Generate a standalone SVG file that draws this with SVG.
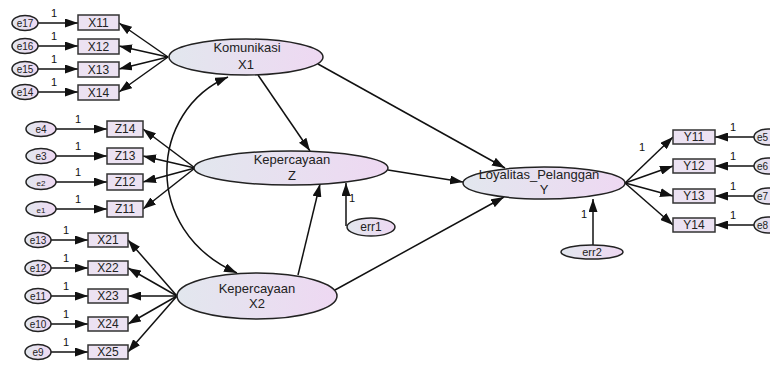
<svg xmlns="http://www.w3.org/2000/svg" width="770" height="365" viewBox="0 0 770 365">
<defs>
<linearGradient id="g" x1="0" y1="0" x2="1" y2="0">
<stop offset="0" stop-color="#e2e7ee"/>
<stop offset="1" stop-color="#eed8f2"/>
</linearGradient>
<marker id="a" markerUnits="userSpaceOnUse" markerWidth="13" markerHeight="9" refX="13" refY="4.5" orient="auto-start-reverse">
<path d="M0,0 L13,4.5 L0,9 z" fill="#111"/>
</marker>
</defs>
<style>
text{font-family:"Liberation Sans",Arial,sans-serif;fill:#222;text-anchor:middle}
.box{fill:#ece2f2;stroke:#333;stroke-width:1.5}
.el{fill:url(#g);stroke:#222;stroke-width:1.5}
.c line,.c path{stroke:#111;stroke-width:1.5;fill:none;marker-end:url(#a)}
.bt{font-size:12px}
.et{font-size:10px}
.lt{font-size:13px}
.one{font-size:11px;fill:#111}
.rt{font-size:10px;text-anchor:start}
</style>
<rect width="770" height="365" fill="#fff"/>
<g id="connectors" class="c">
<line x1="168" y1="57" x2="119" y2="23"/>
<line x1="168" y1="57" x2="119" y2="46"/>
<line x1="168" y1="57" x2="119" y2="69"/>
<line x1="168" y1="57" x2="119" y2="92"/>
<line x1="38" y1="23" x2="78" y2="23"/>
<line x1="38" y1="46" x2="78" y2="46"/>
<line x1="38" y1="69" x2="78" y2="69"/>
<line x1="38" y1="92" x2="78" y2="92"/>
<line x1="195" y1="168" x2="143" y2="129"/>
<line x1="195" y1="168" x2="143" y2="156"/>
<line x1="195" y1="168" x2="143" y2="182"/>
<line x1="195" y1="168" x2="143" y2="209"/>
<line x1="56" y1="129" x2="107" y2="129"/>
<line x1="56" y1="156" x2="107" y2="156"/>
<line x1="56" y1="182" x2="107" y2="182"/>
<line x1="56" y1="209" x2="107" y2="209"/>
<line x1="177" y1="296" x2="128" y2="240"/>
<line x1="177" y1="296" x2="128" y2="268"/>
<line x1="177" y1="296" x2="128" y2="296"/>
<line x1="177" y1="296" x2="128" y2="324"/>
<line x1="177" y1="296" x2="128" y2="352"/>
<line x1="51" y1="240" x2="88" y2="240"/>
<line x1="51" y1="268" x2="88" y2="268"/>
<line x1="51" y1="296" x2="88" y2="296"/>
<line x1="51" y1="324" x2="88" y2="324"/>
<line x1="51" y1="352" x2="88" y2="352"/>
<line x1="258" y1="75" x2="310" y2="151"/>
<line x1="318" y1="64" x2="505" y2="168"/>
<line x1="388" y1="170" x2="463" y2="182"/>
<line x1="335" y1="290" x2="504" y2="197"/>
<line x1="298" y1="275" x2="320" y2="184"/>
<line x1="346" y1="226" x2="346" y2="183"/>
<line x1="593" y1="245" x2="593" y2="199"/>
<line x1="625" y1="183" x2="673" y2="137"/>
<line x1="625" y1="183" x2="673" y2="166"/>
<line x1="625" y1="183" x2="673" y2="196"/>
<line x1="625" y1="183" x2="673" y2="225"/>
<line x1="754" y1="137" x2="715" y2="137"/>
<line x1="754" y1="166" x2="715" y2="166"/>
<line x1="754" y1="196" x2="715" y2="196"/>
<line x1="754" y1="225" x2="715" y2="225"/>
<path d="M228,77 C150,110 140,230 237,273" style="marker-start:url(#a)"/>
</g>
<g id="X1"><ellipse class="el" cx="246" cy="57" rx="77" ry="18"/><text class="lt" x="247" y="52">Komunikasi</text><text class="lt" x="246" y="69">X1</text></g>
<g id="Z"><ellipse class="el" cx="291" cy="168" rx="97" ry="17"/><text class="lt" x="292" y="164">Kepercayaan</text><text class="lt" x="292" y="180">Z</text></g>
<g id="X2"><ellipse class="el" cx="257" cy="296" rx="80" ry="23"/><text class="lt" x="257" y="293">Kepercayaan</text><text class="lt" x="257" y="308">X2</text></g>
<g id="Y"><ellipse class="el" cx="544" cy="183" rx="81" ry="16"/><text class="lt" x="539" y="179">Loyalitas_Pelanggan</text><text class="lt" x="544" y="194">Y</text></g>
<g id="err1"><ellipse class="el" cx="371" cy="227" rx="24" ry="9"/><text class="lt" style="font-size:12px" x="371" y="231">err1</text><text class="one" x="352" y="202">1</text></g>
<g id="err2"><ellipse class="el" cx="592" cy="252" rx="31" ry="7"/><text class="bt" style="font-size:11px" x="592" y="256">err2</text><text class="one" x="584" y="218">1</text></g>
<g id="X11"><rect class="box" x="78" y="15" width="41" height="15"/><text class="bt" x="98.5" y="27">X11</text></g>
<g id="X12"><rect class="box" x="78" y="39" width="41" height="15"/><text class="bt" x="98.5" y="51">X12</text></g>
<g id="X13"><rect class="box" x="78" y="62" width="41" height="15"/><text class="bt" x="98.5" y="74">X13</text></g>
<g id="X14"><rect class="box" x="78" y="85" width="41" height="15"/><text class="bt" x="98.5" y="97">X14</text></g>
<g id="e17"><ellipse class="el" cx="25" cy="23" rx="13" ry="7.5"/><text class="et" x="25" y="27">e17</text><text class="one" x="54" y="17">1</text></g>
<g id="e16"><ellipse class="el" cx="25" cy="46" rx="13" ry="7.5"/><text class="et" x="25" y="50">e16</text><text class="one" x="54" y="40">1</text></g>
<g id="e15"><ellipse class="el" cx="25" cy="69" rx="13" ry="7.5"/><text class="et" x="25" y="73">e15</text><text class="one" x="54" y="63">1</text></g>
<g id="e14"><ellipse class="el" cx="25" cy="92" rx="13" ry="7.5"/><text class="et" x="25" y="96">e14</text><text class="one" x="54" y="86">1</text></g>
<g id="Z14"><rect class="box" x="107" y="121" width="36" height="16"/><text class="bt" x="125" y="133">Z14</text></g>
<g id="Z13"><rect class="box" x="107" y="148" width="36" height="16"/><text class="bt" x="125" y="160">Z13</text></g>
<g id="Z12"><rect class="box" x="107" y="174" width="36" height="16"/><text class="bt" x="125" y="186">Z12</text></g>
<g id="Z11"><rect class="box" x="107" y="201" width="36" height="16"/><text class="bt" x="125" y="213">Z11</text></g>
<g id="e4"><ellipse class="el" cx="41" cy="129" rx="15" ry="7.5"/><text class="et" x="41" y="133">e4</text><text class="one" x="78" y="123">1</text></g>
<g id="e3"><ellipse class="el" cx="41" cy="156" rx="15" ry="7.5"/><text class="et" x="41" y="160">e3</text><text class="one" x="78" y="150">1</text></g>
<g id="e2"><ellipse class="el" cx="41" cy="182" rx="15" ry="7.5"/><text class="et" x="41" y="186" style="font-size:8px">e2</text><text class="one" x="78" y="176">1</text></g>
<g id="e1"><ellipse class="el" cx="41" cy="209" rx="15" ry="7.5"/><text class="et" x="41" y="213" style="font-size:8px">e1</text><text class="one" x="78" y="203">1</text></g>
<g id="X21"><rect class="box" x="88" y="233" width="40" height="14"/><text class="bt" x="108" y="244">X21</text></g>
<g id="X22"><rect class="box" x="88" y="261" width="40" height="14"/><text class="bt" x="108" y="272">X22</text></g>
<g id="X23"><rect class="box" x="88" y="289" width="40" height="14"/><text class="bt" x="108" y="300">X23</text></g>
<g id="X24"><rect class="box" x="88" y="317" width="40" height="14"/><text class="bt" x="108" y="328">X24</text></g>
<g id="X25"><rect class="box" x="88" y="345" width="40" height="14"/><text class="bt" x="108" y="356">X25</text></g>
<g id="e13"><ellipse class="el" cx="38" cy="240" rx="13" ry="7.5"/><text class="et" x="38" y="244">e13</text><text class="one" x="66" y="234">1</text></g>
<g id="e12"><ellipse class="el" cx="38" cy="268" rx="13" ry="7.5"/><text class="et" x="38" y="272">e12</text><text class="one" x="66" y="262">1</text></g>
<g id="e11"><ellipse class="el" cx="38" cy="296" rx="13" ry="7.5"/><text class="et" x="38" y="300">e11</text><text class="one" x="66" y="290">1</text></g>
<g id="e10"><ellipse class="el" cx="38" cy="324" rx="13" ry="7.5"/><text class="et" x="38" y="328">e10</text><text class="one" x="66" y="318">1</text></g>
<g id="e9"><ellipse class="el" cx="38" cy="352" rx="13" ry="7.5"/><text class="et" x="38" y="356">e9</text><text class="one" x="66" y="346">1</text></g>
<g id="Y11"><rect class="box" x="673" y="130" width="42" height="14"/><text class="bt" x="694" y="141">Y11</text><text class="one" x="642" y="151">1</text></g>
<g id="Y12"><rect class="box" x="673" y="159" width="42" height="14"/><text class="bt" x="694" y="170">Y12</text></g>
<g id="Y13"><rect class="box" x="673" y="189" width="42" height="14"/><text class="bt" x="694" y="200">Y13</text></g>
<g id="Y14"><rect class="box" x="673" y="218" width="42" height="14"/><text class="bt" x="694" y="229">Y14</text></g>
<g id="e5"><ellipse class="el" cx="768" cy="137" rx="14" ry="8"/><text class="rt" x="757" y="141">e5</text><text class="one" x="733" y="131">1</text></g>
<g id="e6"><ellipse class="el" cx="768" cy="166" rx="14" ry="8"/><text class="rt" x="757" y="170">e6</text><text class="one" x="733" y="160">1</text></g>
<g id="e7"><ellipse class="el" cx="768" cy="196" rx="14" ry="8"/><text class="rt" x="757" y="200">e7</text><text class="one" x="733" y="190">1</text></g>
<g id="e8"><ellipse class="el" cx="768" cy="225" rx="14" ry="8"/><text class="rt" x="757" y="229">e8</text><text class="one" x="733" y="219">1</text></g>
</svg>
